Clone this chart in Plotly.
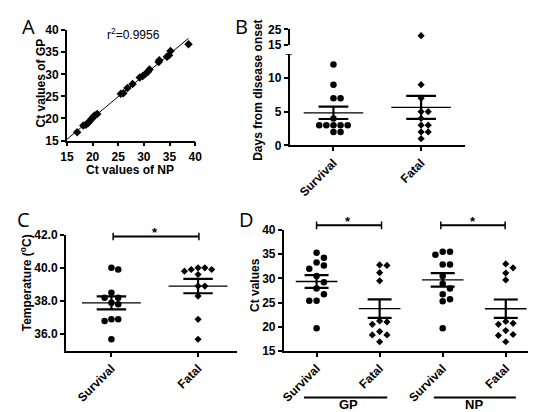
import numpy as np
import plotly.graph_objects as go

W, H = 536, 412

# ---------------- data ----------------
# Panel A: Ct values NP vs GP
a_np = [17.0, 18.2, 18.7, 19.1, 19.5, 19.8, 20.1, 20.4, 20.9, 25.5, 26.0, 26.8, 27.8,
        29.2, 29.8, 30.3, 30.8, 31.1, 32.9, 33.0, 34.5, 34.9, 35.2, 38.7]
a_gp = [16.9, 18.4, 18.6, 18.9, 19.5, 19.9, 20.3, 20.7, 21.0, 25.6, 25.7, 26.9, 27.8,
        29.3, 29.6, 30.1, 30.6, 31.1, 32.8, 33.2, 34.0, 34.3, 35.3, 36.8]
a_r2_text = "r<sup>2</sup>=0.9956"

# Panel B: days from disease onset
b_groups = ["Survival", "Fatal"]
b_survival = [12, 9, 7, 7, 4, 3, 3, 3, 3, 3, 2, 2]
b_fatal = [21, 9, 7, 5, 5, 4, 3, 3, 2, 2, 1]

# Panel C: temperature
c_groups = ["Survival", "Fatal"]
c_survival = [39.9, 40.0, 38.5, 38.2, 38.2, 37.9, 37.8, 36.9, 36.8, 36.9, 35.7]
c_fatal = [40.0, 39.9, 39.6, 39.8, 39.9, 40.0, 38.9, 38.9, 38.3, 36.9, 35.7]

# Panel D: Ct values
d_groups = ["Survival", "Fatal", "Survival", "Fatal"]
d_gp_survival = [35.3, 34.3, 33.3, 32.7, 32.0, 30.5, 29.2, 27.9, 26.7, 25.4, 25.4, 19.7]
d_gp_fatal = [32.8, 32.7, 31.2, 29.5, 21.2, 21.0, 20.5, 19.0, 18.3, 18.3, 16.9]
d_np_survival = [35.5, 35.5, 34.9, 32.9, 32.9, 30.5, 28.9, 27.9, 26.7, 25.7, 25.3, 19.7]
d_np_fatal = [33.0, 32.2, 31.1, 29.7, 21.1, 20.7, 20.5, 19.2, 18.4, 18.2, 16.9]
d_pairs = ["GP", "NP"]

FONT = "Liberation Sans"
FS = 12


def PX(x):
    return x / W


def PY(y):
    return 1 - y / H


def swarm(vals, pos, ux, uy, d):
    placed = []
    xs = [0.0] * len(vals)
    order = sorted(range(len(vals)), key=lambda i: -vals[i])
    cands = [0] + [s * m for m in range(1, 12) for s in (1, -1)]
    for i in order:
        yp = vals[i] * uy
        xp = 0
        for c in cands:
            xp = c * d
            if all((xp - a) ** 2 + (yp - b) ** 2 >= (0.93 * d) ** 2 for a, b in placed):
                break
        placed.append((xp, yp))
        xs[i] = pos + xp / ux
    return xs


fig = go.Figure()

axis_style = dict(showline=True, linecolor="black", linewidth=1.8, ticks="outside",
                  ticklen=4, tickwidth=1.6, tickcolor="black", showgrid=False,
                  zeroline=False,
                  tickfont=dict(family=FONT, size=FS, color="black", weight="bold"))

# ---------------- Panel A ----------------
fig.add_trace(go.Scatter(x=a_np, y=a_gp, mode="markers", xaxis="x", yaxis="y",
                         marker=dict(symbol="diamond", size=6.5, color="black"),
                         cliponaxis=False))
k, b0 = np.polyfit(a_np, a_gp, 1)
lx = np.array([15.0, max(a_np)])
fig.add_trace(go.Scatter(x=lx, y=k * lx + b0, mode="lines", xaxis="x", yaxis="y",
                         line=dict(color="black", width=1)))


def add_group(vals, pos, xa, ya, ux, uy, d, symbol, size):
    xs = swarm(vals, pos, ux, uy, d)
    fig.add_trace(go.Scatter(x=xs, y=vals, mode="markers", xaxis=xa, yaxis=ya,
                             marker=dict(symbol=symbol, size=size, color="black"),
                             cliponaxis=False))


def add_stats(vals, pos, xa, ya, mhalf, chalf):
    m = float(np.mean(vals))
    s = float(np.std(vals, ddof=1) / np.sqrt(len(vals)))
    fig.add_trace(go.Scatter(x=[pos - mhalf, pos + mhalf], y=[m, m], mode="lines",
                             xaxis=xa, yaxis=ya, line=dict(color="black", width=1.3)))
    fig.add_trace(go.Scatter(
        x=[pos - chalf, pos + chalf, None, pos, pos, None, pos - chalf, pos + chalf],
        y=[m + s, m + s, None, m + s, m - s, None, m - s, m - s],
        mode="lines", xaxis=xa, yaxis=ya, line=dict(color="black", width=2.2)))


# ---------------- Panel B ----------------
B_BREAK = 14
for pos, vals, sym, sz in [(0, b_survival, "circle", 6.5), (1, b_fatal, "diamond", 5.5)]:
    low = [v for v in vals if v < B_BREAK]
    high = [v for v in vals if v >= B_BREAK]
    add_group(low, pos, "x2", "y2", 90, 7, 7.3, sym, sz)
    if high:
        add_group(high, pos, "x2", "y3", 90, 1.6, 7.3, sym, sz)
    add_stats(vals, pos, "x2", "y2", 0.34, 0.17)

# ---------------- Panel C ----------------
for pos, vals, sym, sz in [(0, c_survival, "circle", 6.5), (1, c_fatal, "diamond", 5.5)]:
    add_group(vals, pos, "x3", "y4", 89, 17.17, 7.0, sym, sz)
    add_stats(vals, pos, "x3", "y4", 0.34, 0.17)

# ---------------- Panel D ----------------
for pos, vals, sym, sz in [(0, d_gp_survival, "circle", 6.5), (1, d_gp_fatal, "diamond", 5.5),
                           (2, d_np_survival, "circle", 6.5), (3, d_np_fatal, "diamond", 5.5)]:
    add_group(vals, pos, "x4", "y5", 64.7, 5, 7.5, sym, sz)
    add_stats(vals, pos, "x4", "y5", 0.33, 0.19)

cat_tick = dict(tickangle=-45)

fig.update_layout(
    width=W, height=H, margin=dict(l=0, r=0, t=0, b=0),
    paper_bgcolor="white", plot_bgcolor="white", showlegend=False,
    xaxis=dict(axis_style, domain=[PX(53.3), PX(185)], range=[15, 40], dtick=5, anchor="y"),
    yaxis=dict(axis_style, domain=[PY(130), PY(15.7)], range=[15, 40], dtick=5, anchor="x"),
    xaxis2=dict(axis_style, domain=[PX(282), PX(462)], range=[-0.5, 1.5], anchor="y2",
                tickvals=[0, 1], ticktext=b_groups, **cat_tick),
    yaxis2=dict(axis_style, domain=[PY(135), PY(40.7)], range=[0, 13.5], anchor="x2",
                tickvals=[0, 5, 10]),
    yaxis3=dict(axis_style, domain=[PY(31), PY(15)], range=[15, 25], anchor="x2",
                tickvals=[15, 25]),
    xaxis3=dict(axis_style, domain=[PX(52.3), PX(228)], range=[-0.525, 1.45], anchor="y4",
                tickvals=[0, 1], ticktext=c_groups, **cat_tick),
    yaxis4=dict(axis_style, domain=[PY(347.7), PY(227.3)], range=[35, 42], anchor="x3",
                tickvals=[36, 38, 40, 42], tickformat=".1f"),
    xaxis4=dict(axis_style, domain=[PX(276), PX(535)], range=[-0.52, 3.48], anchor="y5",
                tickvals=[0, 1, 2, 3], ticktext=d_groups, **cat_tick),
    yaxis5=dict(axis_style, domain=[PY(347.7), PY(222.7)], range=[15, 40], anchor="x4",
                tickvals=[15, 20, 25, 30, 35, 40]),
)

ann = []


def text(x, y, s, size=FS, bold=True, angle=0, xref="paper", family=FONT):
    ann.append(dict(x=x if xref != "paper" else PX(x), y=PY(y), xref=xref, yref="paper",
                    text=s, showarrow=False, textangle=angle, xanchor="center",
                    yanchor="middle",
                    font=dict(family=family, size=size, color="black",
                              weight="bold" if bold else "normal")))


# panel letters
for lt, x, y in [("A", 13.5, 11.5), ("B", 232.5, 11.5), ("C", 9, 211.5), ("D", 237.5, 211.5)]:
    text(x, y, lt, size=20, bold=False, family="Open Sans")

# axis titles
text(26.5, 70, "Ct values of GP", angle=-90)
text(118.5, 160, "Ct values of NP")
text(250, 78, "Days from disease onset", angle=-90)
text(11, 277, "Temperature (<sup>o</sup>C)", angle=-90)
text(247, 280, "Ct values", angle=-90)
ann.append(dict(x=27.9, y=39.1, xref="x", yref="y", text=a_r2_text, showarrow=False,
                font=dict(family=FONT, size=FS, color="black")))

# pair labels under D
text(0.5, 403.5, d_pairs[0], size=13, xref="x4")
text(2.5, 403.5, d_pairs[1], size=13, xref="x4")

shapes = []


def bracket(xa, x0, x1, y):
    shapes.append(dict(type="line", xref=xa, yref="paper", x0=x0, x1=x1, y0=PY(y), y1=PY(y),
                       line=dict(color="black", width=2)))
    for xx in (x0, x1):
        shapes.append(dict(type="line", xref=xa, yref="paper", x0=xx, x1=xx,
                           y0=PY(y - 4), y1=PY(y + 4), line=dict(color="black", width=1.5)))


bracket("x3", 0.02, 1.01, 229.3)
text(0.5, 225, "*", size=13, xref="x3")
bracket("x4", 0.0, 1.03, 217.7)
bracket("x4", 1.97, 2.99, 217.7)
text(0.5, 213.5, "*", size=13, xref="x4")
text(2.48, 213.5, "*", size=13, xref="x4")

# small tick closing the top of the lower segment of panel B's broken axis
shapes.append(dict(type="line", xref="x2 domain", yref="y2", x0=-0.022, x1=0.012,
                   y0=13.5, y1=13.5, line=dict(color="black", width=1.6)))

for x0, x1 in [(-0.2, 1.12), (1.86, 3.16)]:
    shapes.append(dict(type="line", xref="x4", yref="paper", x0=x0, x1=x1,
                       y0=PY(396), y1=PY(396), line=dict(color="black", width=2)))

fig.update_layout(annotations=ann, shapes=shapes)
fig.write_html("out.html")
